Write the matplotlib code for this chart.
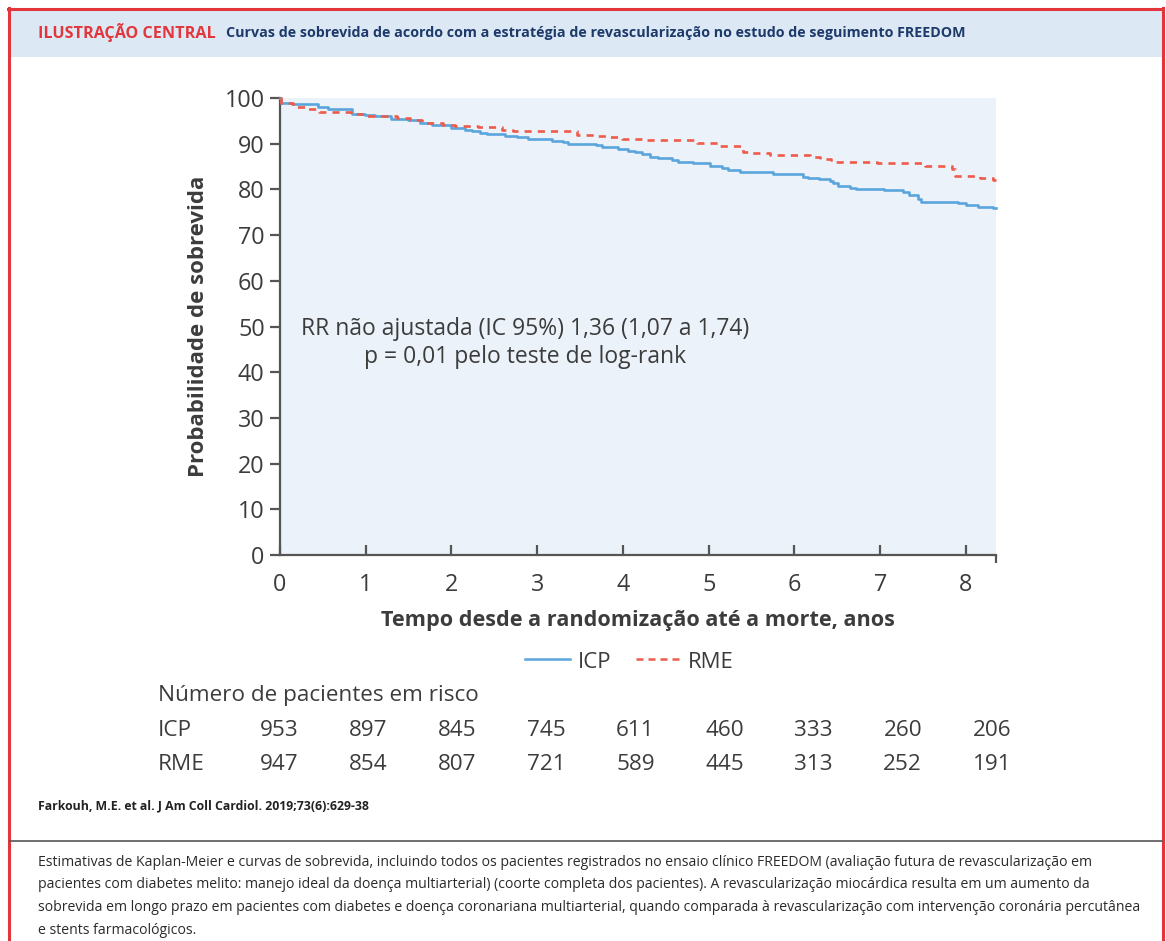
import matplotlib
matplotlib.use("Agg")
import matplotlib.pyplot as plt
from matplotlib.lines import Line2D
from matplotlib.patches import Rectangle

plt.rcParams['font.family'] = ['Open Sans', 'DejaVu Sans']

# Kaplan-Meier steps (years, % alive)
icp_t = [0, 0.01, 0.14, 0.44, 0.56, 0.84, 0.99, 1.11, 1.30, 1.49, 1.63, 1.77, 2.0,
         2.16, 2.24, 2.33, 2.41, 2.62, 2.76, 2.89, 3.17, 3.30, 3.36, 3.69, 3.75, 3.94,
         4.06, 4.14, 4.22, 4.31, 4.41, 4.57, 4.64, 4.82, 5.01, 5.15, 5.23, 5.36, 5.48,
         5.75, 6.10, 6.16, 6.29, 6.41, 6.45, 6.51, 6.65, 6.72, 7.04, 7.26, 7.34, 7.44,
         7.47, 7.91, 8.0, 8.14, 8.32]
icp_s = [100, 99.0, 98.6, 98.1, 97.5, 96.6, 96.3, 96.0, 95.5, 95.1, 94.6, 94.2, 93.5,
         93.0, 92.8, 92.4, 92.1, 91.7, 91.4, 91.1, 90.7, 90.4, 90.0, 89.7, 89.3, 88.9,
         88.5, 88.2, 87.7, 87.1, 86.8, 86.4, 86.1, 85.7, 85.1, 84.6, 84.3, 83.9, 83.7,
         83.3, 82.8, 82.5, 82.2, 81.8, 81.3, 80.8, 80.4, 80.1, 79.8, 79.4, 78.8, 77.9,
         77.3, 77.0, 76.5, 76.2, 75.9]
rme_t = [0, 0.01, 0.15, 0.29, 0.45, 0.83, 0.99, 1.37, 1.52, 1.66, 1.9, 2.04, 2.31, 2.59,
         2.72, 3.46, 3.71, 3.85, 3.99, 4.23, 4.86, 5.11, 5.40, 5.46, 5.71, 6.18, 6.3,
         6.43, 6.96, 7.52, 7.84, 7.87, 8.16, 8.32]
rme_s = [100, 99.0, 98.1, 97.7, 97.0, 96.6, 96.1, 95.6, 95.2, 94.6, 94.1, 93.9, 93.6,
         93.1, 92.8, 92.0, 91.7, 91.4, 91.1, 90.8, 90.1, 89.4, 88.2, 87.9, 87.6, 87.1,
         86.7, 86.1, 85.8, 85.2, 84.4, 83.0, 82.5, 82.0]

risk_years = [0, 1, 2, 3, 4, 5, 6, 7, 8]
risk_icp = [953, 897, 845, 745, 611, 460, 333, 260, 206]
risk_rme = [947, 854, 807, 721, 589, 445, 313, 252, 191]

xmax = 8.35
BLUE = '#5aa5dc'
RED = '#ef5b4a'
TXT = '#3c3c3c'

W, H = 1166, 941
fig = plt.figure(figsize=(W / 100, H / 100), dpi=100)


def fx(p):
    return p / W


def fy(p):
    return 1 - p / H


# frame and header band
fig.add_artist(Rectangle((fx(10), fy(57)), fx(1152), 47 / H, transform=fig.transFigure,
                         facecolor='#dde8f5', edgecolor='none'))
for xs, ys in [([8, 1163], [8.5, 8.5]), ([9, 9], [8, 941]), ([1163, 1163], [8, 941])]:
    fig.add_artist(Line2D([fx(v) for v in xs], [fy(v) for v in ys], transform=fig.transFigure,
                          color='#e2363c', lw=2.2))
fig.add_artist(Line2D([fx(10), fx(1162)], [fy(841), fy(841)], transform=fig.transFigure,
                      color='#555555', lw=1.2))

fig.text(fx(38), fy(33), 'ILUSTRAÇÃO CENTRAL', color='#e2363c', fontsize=11.6,
         fontweight='bold', va='center')
hdr = fig.text(fx(226), fy(33),
               'Curvas de sobrevida de acordo com a estratégia de revascularização no estudo de seguimento FREEDOM',
               color='#1d3a6b', fontsize=10.5, fontweight='bold', va='center')

# main axes
ax = fig.add_axes([fx(280), 1 - 555 / H, 716 / W, 457 / H])
ax.set_facecolor('#ebf2fa')
ax.step(icp_t + [xmax], icp_s + [icp_s[-1]], where='post', color=BLUE, lw=1.9,
        clip_on=False, zorder=3)
ax.step(rme_t + [xmax], rme_s + [rme_s[-1]], where='post', color=RED, lw=1.9,
        dashes=(2.7, 2.3), clip_on=False, zorder=4)
ax.set_xlim(0, xmax)
ax.set_ylim(0, 100)
ax.set_xticks(range(0, 9))
ax.set_xticks([xmax], minor=True)
ax.set_yticks(range(0, 101, 10))
for s in ['top', 'right']:
    ax.spines[s].set_visible(False)
for s in ['left', 'bottom']:
    ax.spines[s].set_color('#555555')
    ax.spines[s].set_linewidth(1.6)
ax.tick_params(axis='y', direction='out', length=7, width=1.6, color='#555555',
               labelsize=16.8, labelcolor=TXT, pad=4)
ax.tick_params(axis='x', direction='in', length=7, width=1.6, color='#555555',
               labelsize=16.8, labelcolor=TXT, pad=13)
ax.tick_params(axis='x', which='minor', direction='out', length=6, width=1.6,
               color='#555555')
ax.set_ylabel('Probabilidade de sobrevida', fontsize=16, fontweight='bold', color=TXT,
              labelpad=11)
ax.set_xlabel('Tempo desde a randomização até a morte, anos', fontsize=15.6,
              fontweight='bold', color=TXT, labelpad=9)

ax.text(fx(525), fy(329), 'RR não ajustada (IC 95%) 1,36 (1,07 a 1,74)',
        transform=fig.transFigure, ha='center', va='center', fontsize=16.5, color=TXT)
ax.text(fx(525), fy(357), 'p = 0,01 pelo teste de log-rank',
        transform=fig.transFigure, ha='center', va='center', fontsize=16.5, color=TXT)

# legend
fig.add_artist(Line2D([fx(525), fx(570)], [fy(659)] * 2, transform=fig.transFigure,
                      color=BLUE, lw=1.8))
fig.text(fx(578), fy(662), 'ICP', fontsize=16, color=TXT, va='center')
fig.add_artist(Line2D([fx(636), fx(681)], [fy(659)] * 2, transform=fig.transFigure,
                      color=RED, lw=1.8, dashes=(2.8, 2.0)))
fig.text(fx(688), fy(662), 'RME', fontsize=16, color=TXT, va='center')

# number at risk
fig.text(fx(158), fy(695), 'Número de pacientes em risco', fontsize=16.2, color=TXT,
         va='center')
col_x = [279 + 89.1 * i for i in risk_years]
for label, vals, y in [('ICP', risk_icp, 730), ('RME', risk_rme, 765)]:
    fig.text(fx(158), fy(y), label, fontsize=16.2, color=TXT, va='center')
    for cx, v in zip(col_x, vals):
        fig.text(fx(cx), fy(y), str(v), fontsize=16.2, color=TXT, va='center', ha='center')

fig.text(fx(38), fy(806), 'Farkouh, M.E. et al. J Am Coll Cardiol. 2019;73(6):629-38',
         fontsize=8.8, fontweight='bold', color='#222222', va='center')

caption = [
    'Estimativas de Kaplan-Meier e curvas de sobrevida, incluindo todos os pacientes registrados no ensaio clínico FREEDOM (avaliação futura de revascularização em',
    'pacientes com diabetes melito: manejo ideal da doença multiarterial) (coorte completa dos pacientes). A revascularização miocárdica resulta em um aumento da',
    'sobrevida em longo prazo em pacientes com diabetes e doença coronariana multiarterial, quando comparada à revascularização com intervenção coronária percutânea',
    'e stents farmacológicos.',
]
for i, line in enumerate(caption):
    fig.text(fx(38), fy(862 + 22.7 * i), line, fontsize=10.1, color='#2a2a2a', va='center')

# squeeze header title into its width
fig.canvas.draw()
bb = hdr.get_window_extent()
hdr.set_fontsize(10.5 * 742 / bb.width)

fig.savefig('out.png', dpi=100)
